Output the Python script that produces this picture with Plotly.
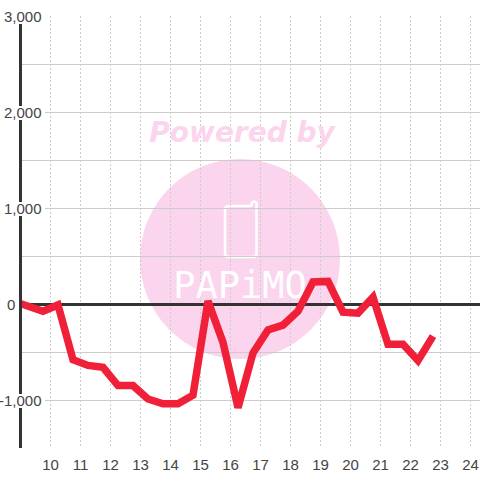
import plotly.graph_objects as go

hours = [8.9, 9.75, 10.25, 10.75, 11.25, 11.75, 12.25, 12.75, 13.25, 13.75, 14.25, 14.75,
         15.25, 15.75, 16.25, 16.75, 17.25, 17.75, 18.25, 18.75, 19.25, 19.75, 20.25,
         20.75, 21.25, 21.75, 22.25, 22.75]
values = [15, -75, -10, -580, -640, -660, -850, -850, -990, -1040, -1040, -950,
          30, -400, -1080, -510, -270, -220, -75, 230, 235, -85, -95,
          70, -420, -420, -590, -335]
x_ticks = list(range(10, 25))
y_ticks = [3000, 2000, 1000, 0, -1000]
y_labels = ["3,000", "2,000", "1,000", "0", "-1,000"]
y_label_right = [43, 43, 43, 16, 43]

FONT = "Liberation Sans"
W, L, T, B = 480, 22, 16, 32
PW = W - L
PH = 480 - T - B
X0 = 10 - (50.5 - L) / 30
X1 = X0 + PW / 30
def dx(px): return X0 + (px - L) / 30
def dy(py): return (304 - py) / 0.096
def fx(px): return (px - L) / PW
def fy(py): return 1 - (py - T) / PH

fig = go.Figure()
fig.add_trace(go.Scatter(x=[dx(242)], y=[dy(135)], mode="text", text=["Powered by"], hoverinfo="skip",
                         textfont=dict(family="DejaVu Sans", size=28, color="#fbd5ee", weight="bold", style="italic"),
                         textposition="middle center", showlegend=False))
fig.add_trace(go.Scatter(x=[dx(240)], y=[dy(289)], mode="text", text=["PAPiMO"], hoverinfo="skip",
                         textfont=dict(family="DejaVu Sans Mono", size=37, color="#ffffff"),
                         textposition="middle center", showlegend=False))
fig.add_trace(go.Scatter(x=hours, y=values, mode="lines", showlegend=False, cliponaxis=False,
                         line=dict(color="#f02038", width=7.5)))

shapes = [
    dict(type="circle", xref="paper", yref="paper", layer="below",
         x0=fx(140), x1=fx(340), y0=fy(359), y1=fy(159),
         fillcolor="#fbd5ee", line_width=0),
    dict(type="path", xref="paper", yref="paper", layer="below",
         path="M {} {} L {} {} Q {} {} {} {} Q {} {} {} {} L {} {} Q {} {} {} {} L {} {} Q {} {} {} {} L {} {} Q {} {} {} {} Z".format(
             fx(229), fy(206), fx(250), fy(206), fx(252), fy(206), fx(252), fy(203),
             fx(254), fy(200), fx(256.5), fy(203),
             fx(256.5), fy(254), fx(256.5), fy(257), fx(253), fy(257),
             fx(229), fy(257), fx(225), fy(257), fx(225), fy(254),
             fx(225), fy(210), fx(225), fy(206), fx(229), fy(206)),
         line=dict(color="#ffffff", width=2.5), fillcolor="rgba(0,0,0,0)"),
]
for v, t in zip(y_ticks, y_labels):
    if t != "0":
        shapes.append(dict(type="rect", layer="above", xref="paper", yref="y", ysizemode="pixel",
                           yanchor=v, x0=fx(3), x1=fx(45), y0=-8, y1=6,
                           fillcolor="#ffffff", line_width=0))

annots = [dict(x=0, xref="paper", xshift=r - L, y=v, yref="y", text=t, showarrow=False,
               xanchor="right", yanchor="middle", borderpad=0,
               font=dict(family=FONT, size=15, color="#444444"))
          for v, t, r in zip(y_ticks, y_labels, y_label_right)]

fig.update_layout(
    width=480, height=480, autosize=False,
    margin=dict(l=L, r=0, t=T, b=B),
    paper_bgcolor="#ffffff", plot_bgcolor="rgba(0,0,0,0)",
    shapes=shapes, annotations=annots, showlegend=False,
    xaxis=dict(range=[X0, X1], tickvals=x_ticks, ticktext=[str(v) for v in x_ticks],
               showgrid=True, gridcolor="#cccccc", griddash="2px,2px", gridwidth=1,
               zeroline=False, showline=False, ticks="",
               tickfont=dict(family=FONT, size=15, color="#444444"), ticklabelstandoff=6),
    yaxis=dict(range=[-1500, 3000], dtick=500, showticklabels=False,
               showgrid=True, gridcolor="#cccccc", gridwidth=1,
               zeroline=True, zerolinecolor="#333333", zerolinewidth=3,
               showline=True, linecolor="#333333", linewidth=3, ticks=""),
)
fig.write_html("out.html", config={"displayModeBar": False},
               post_script="document.body.style.margin='0';")
